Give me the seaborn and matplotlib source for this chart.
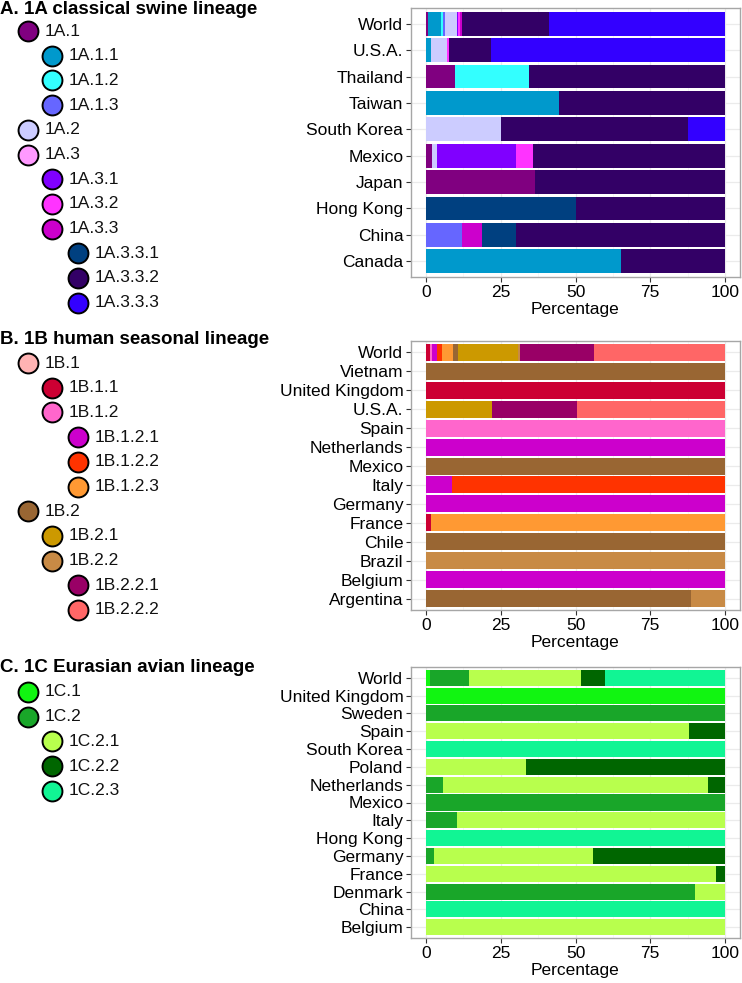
import matplotlib
matplotlib.use('Agg')
import matplotlib.pyplot as plt
import seaborn as sns
import numpy as np
import pandas as pd

# ---------------- Panel A: 1A classical swine lineage ----------------
A_title = "A. 1A classical swine lineage"
A_clades = ["1A.1", "1A.1.1", "1A.1.2", "1A.1.3", "1A.2", "1A.3", "1A.3.1",
            "1A.3.2", "1A.3.3", "1A.3.3.1", "1A.3.3.2", "1A.3.3.3"]
A_colors = ["#800080", "#0099CC", "#33FFFF", "#6666FF", "#CCCCFF", "#FF99FF",
            "#8000FF", "#FF33FF", "#CC00CC", "#004080", "#330066", "#3300FF"]
A_countries = ["World", "U.S.A.", "Thailand", "Taiwan", "South Korea", "Mexico",
               "Japan", "Hong Kong", "China", "Canada"]
A_values = [
    [0.8, 4.3, 0.7, 0.5, 4.0, 0, 0.3, 0.8, 0.5, 0.3, 29.1, 58.7],
    [0, 1.7, 0, 0, 5.2, 0, 0, 0.8, 0, 0, 13.9, 78.4],
    [9.6, 0, 25.0, 0, 0, 0, 0, 0, 0, 0, 65.4, 0],
    [0, 44.4, 0, 0, 0, 0, 0, 0, 0, 0, 55.6, 0],
    [0, 0, 0, 0, 25.0, 0, 0, 0, 0, 0, 62.6, 12.4],
    [1.9, 0, 0, 0, 1.9, 0, 26.3, 5.8, 0, 0, 64.1, 0],
    [36.3, 0, 0, 0, 0, 0, 0, 0, 0, 0, 63.7, 0],
    [0, 0, 0, 0, 0, 0, 0, 0, 0, 50.0, 50.0, 0],
    [0, 0, 0, 12.2, 0, 0, 0, 0, 6.7, 11.1, 70.0, 0],
    [0, 65.1, 0, 0, 0, 0, 0, 0, 0, 0, 34.9, 0],
]

# ---------------- Panel B: 1B human seasonal lineage ----------------
B_title = "B. 1B human seasonal lineage"
B_clades = ["1B.1", "1B.1.1", "1B.1.2", "1B.1.2.1", "1B.1.2.2", "1B.1.2.3",
            "1B.2", "1B.2.1", "1B.2.2", "1B.2.2.1", "1B.2.2.2"]
B_colors = ["#FFB3B3", "#CC0033", "#FF66CC", "#CC00CC", "#FF3300", "#FF9933",
            "#996633", "#CC9900", "#C88A45", "#990066", "#FF6666"]
B_countries = ["World", "Vietnam", "United Kingdom", "U.S.A.", "Spain",
               "Netherlands", "Mexico", "Italy", "Germany", "France", "Chile",
               "Brazil", "Belgium", "Argentina"]
B_values = [
    [0, 1.4, 0.6, 1.7, 1.6, 3.8, 1.6, 20.2, 0.4, 24.8, 43.9],
    [0, 0, 0, 0, 0, 0, 100, 0, 0, 0, 0],
    [0, 100, 0, 0, 0, 0, 0, 0, 0, 0, 0],
    [0, 0, 0, 0, 0, 0, 0, 22.2, 0, 28.2, 49.6],
    [0, 0, 100, 0, 0, 0, 0, 0, 0, 0, 0],
    [0, 0, 0, 100, 0, 0, 0, 0, 0, 0, 0],
    [0, 0, 0, 0, 0, 0, 100, 0, 0, 0, 0],
    [0, 0, 0, 8.7, 91.3, 0, 0, 0, 0, 0, 0],
    [0, 0, 0, 100, 0, 0, 0, 0, 0, 0, 0],
    [0, 1.8, 0, 0, 0, 98.2, 0, 0, 0, 0, 0],
    [0, 0, 0, 0, 0, 0, 100, 0, 0, 0, 0],
    [0, 0, 0, 0, 0, 0, 0, 0, 100, 0, 0],
    [0, 0, 0, 100, 0, 0, 0, 0, 0, 0, 0],
    [0, 0, 0, 0, 0, 0, 88.7, 0, 11.3, 0, 0],
]

# ---------------- Panel C: 1C Eurasian avian lineage ----------------
C_title = "C. 1C Eurasian avian lineage"
C_clades = ["1C.1", "1C.2", "1C.2.1", "1C.2.2", "1C.2.3"]
C_colors = ["#11F511", "#19A629", "#B8FF4D", "#006600", "#11F594"]
C_countries = ["World", "United Kingdom", "Sweden", "Spain", "South Korea",
               "Poland", "Netherlands", "Mexico", "Italy", "Hong Kong",
               "Germany", "France", "Denmark", "China", "Belgium"]
C_values = [
    [1.2, 13.1, 37.6, 8.0, 40.1],
    [100, 0, 0, 0, 0],
    [0, 100, 0, 0, 0],
    [0, 0, 87.9, 12.1, 0],
    [0, 0, 0, 0, 100],
    [0, 0, 33.4, 66.6, 0],
    [0, 5.8, 88.6, 5.6, 0],
    [0, 100, 0, 0, 0],
    [0, 10.3, 89.7, 0, 0],
    [0, 0, 0, 0, 100],
    [0, 2.8, 53.0, 44.2, 0],
    [0, 0, 97.1, 2.9, 0],
    [0, 89.8, 10.2, 0, 0],
    [0, 0, 0, 0, 100],
    [0, 0, 100, 0, 0],
]

sns.set_theme(style="white")
plt.rcParams['font.family'] = ['Liberation Sans', 'DejaVu Sans']

W, H = 742, 983
fig = plt.figure(figsize=(W / 100, H / 100), dpi=100)

# overlay for the clade legends (pixel coordinates)
lax = fig.add_axes([0, 0, 1, 1])
lax.set_xlim(0, W)
lax.set_ylim(H, 0)
lax.axis('off')

LEVEL_X = {1: 28, 2: 52, 3: 78}


def draw_legend(title, y_title, y0, clades, colors, step=24.7):
    lax.text(0, y_title, title, fontsize=13.5, fontweight='bold',
             ha='left', va='center', color='black')
    for i, (c, col) in enumerate(zip(clades, colors)):
        x = LEVEL_X[c.count('.')]
        y = y0 + i * step
        lax.scatter([x], [y], s=205, c=col, edgecolors='black',
                    linewidths=1.4, zorder=3)
        lax.text(x + 17, y, c, fontsize=12.5, ha='left', va='center',
                 color='#111111')


def draw_panel(top_px, bottom_px, countries, colors, values):
    left_px, right_px = 411, 740
    ax = fig.add_axes([left_px / W, 1 - bottom_px / H,
                       (right_px - left_px) / W, (bottom_px - top_px) / H])
    vals = np.array(values, dtype=float)
    cum = np.cumsum(vals, axis=1)
    for k in range(vals.shape[1] - 1, -1, -1):
        df = pd.DataFrame({'country': countries, 'pct': cum[:, k]})
        sns.barplot(data=df, x='pct', y='country', order=countries,
                    orient='h', color=colors[k], width=0.9, errorbar=None,
                    linewidth=0, saturation=1, ax=ax, zorder=2)
    n = len(countries)
    ax.set_xlim(-5, 105)
    ax.set_ylim(n - 1 + 0.6, -0.6)
    ax.set_xticks([0, 25, 50, 75, 100])
    ax.set_xticks([12.5, 37.5, 62.5, 87.5], minor=True)
    ax.set_axisbelow(True)
    ax.grid(True, which='major', color='#EBEBEB', linewidth=0.9)
    ax.grid(True, which='minor', axis='x', color='#F3F3F3', linewidth=0.5)
    ax.set_ylabel('')
    ax.set_xlabel('Percentage', fontsize=12.5, color='black', labelpad=2)
    ax.tick_params(axis='both', which='major', bottom=True, left=True,
                   length=3.5, width=0.8, color='#333333', labelsize=12.5,
                   labelcolor='black', pad=2)
    ax.tick_params(axis='x', which='minor', bottom=False)
    for sp in ax.spines.values():
        sp.set_color('#A6A6A6')
        sp.set_linewidth(1.0)
    return ax


draw_legend(A_title, 10, 31, A_clades, A_colors)
draw_legend(B_title, 339, 363, B_clades, B_colors)
draw_legend(C_title, 667, 692, C_clades, C_colors)

draw_panel(8, 277, A_countries, A_colors, A_values)
draw_panel(341, 610, B_countries, B_colors, B_values)
draw_panel(667, 938, C_countries, C_colors, C_values)

fig.savefig('out.png', dpi=100)
